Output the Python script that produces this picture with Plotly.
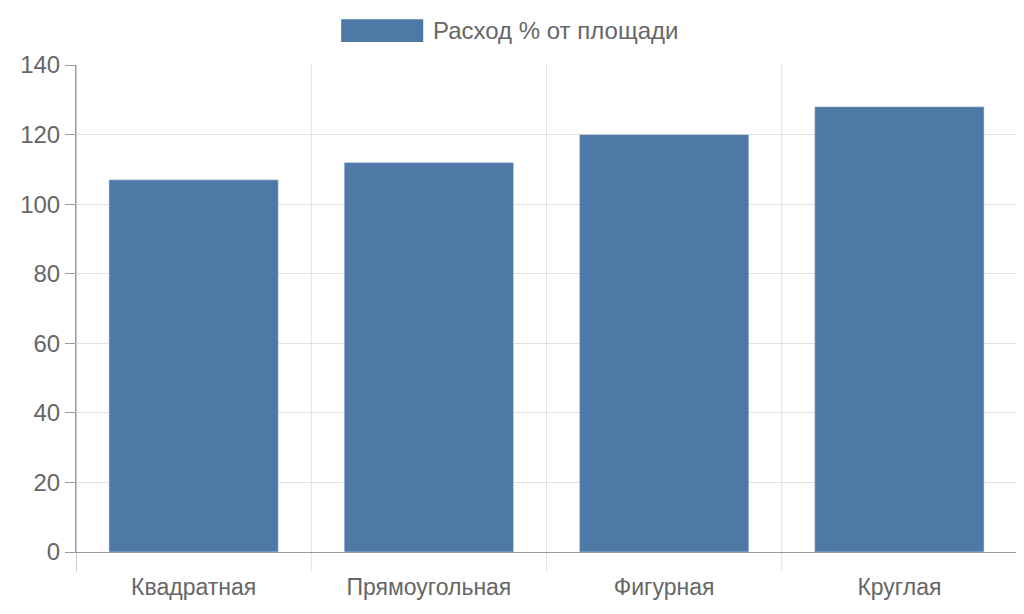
import plotly.graph_objects as go

categories = ["Квадратная", "Прямоугольная", "Фигурная", "Круглая"]
values = [107, 112, 120, 128]
series_name = "Расход % от площади"
color = "#4e78a6"

fig = go.Figure(go.Bar(x=categories, y=values, marker_color=color, width=0.72,
                       showlegend=False, name=series_name))

shapes = []
for i in range(len(categories) + 1):
    b = i - 0.5
    shapes.append(dict(type="line", xref="x", yref="paper", x0=b, x1=b, y0=-0.04, y1=1,
                       line=dict(color="#e0e0e0" if 0 < i else "#999", width=1), layer="below"))
shapes.append(dict(type="rect", xref="paper", yref="paper", x0=0.2818, x1=0.3690,
                   y0=1.047, y1=1.094, fillcolor=color, line=dict(width=0)))

fig.update_layout(
    width=1024, height=614, margin=dict(l=68, r=15, t=57, b=70),
    plot_bgcolor="white", paper_bgcolor="white",
    font=dict(family="Liberation Sans, Arial, sans-serif", color="#666", size=18),
    shapes=shapes, bargap=0.28,
    annotations=[dict(text=series_name, xref="paper", yref="paper", x=0.3775, y=1.07,
                      xanchor="left", yanchor="middle", showarrow=False, font=dict(size=24, color="#666"))],
    xaxis=dict(showgrid=False, showline=True, linecolor="#999", tickfont=dict(size=23),
               range=[-0.5, 3.5], ticks="outside", ticklen=14, tickcolor="rgba(0,0,0,0)"),
    yaxis=dict(range=[0, 140], dtick=20, gridcolor="#e0e0e0", showline=True, linecolor="#999",
               ticks="outside", ticklen=10, tickcolor="#999", zeroline=False, tickfont=dict(size=24)),
)
fig.write_html("out.html")
